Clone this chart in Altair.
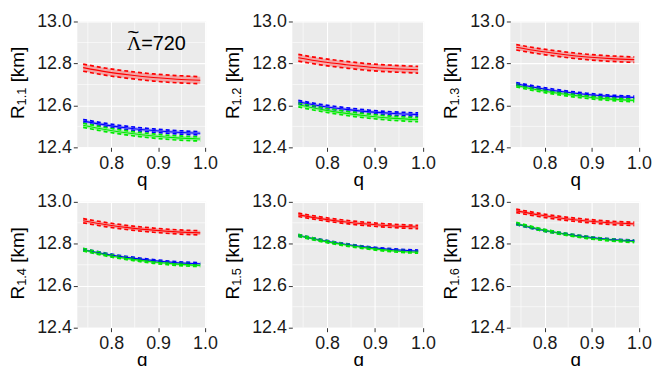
import altair as alt
import pandas as pd

# q grid
q_vals = [0.74, 0.79, 0.84, 0.89, 0.94, 0.99]
panel_subs = ["1.1", "1.2", "1.3", "1.4", "1.5", "1.6"]

# central curves per panel (red, blue, green)
red_mid = [
    [12.780, 12.760, 12.745, 12.733, 12.725, 12.720],
    [12.827, 12.808, 12.794, 12.782, 12.775, 12.770],
    [12.877, 12.858, 12.843, 12.831, 12.823, 12.818],
    [12.910, 12.891, 12.876, 12.865, 12.857, 12.852],
    [12.938, 12.919, 12.904, 12.893, 12.885, 12.880],
    [12.957, 12.937, 12.921, 12.909, 12.900, 12.895],
]
blue_mid = [
    [12.525, 12.506, 12.491, 12.480, 12.472, 12.467],
    [12.616, 12.596, 12.581, 12.569, 12.561, 12.556],
    [12.703, 12.682, 12.665, 12.652, 12.643, 12.638],
    [12.772, 12.750, 12.733, 12.720, 12.710, 12.705],
    [12.840, 12.816, 12.797, 12.782, 12.772, 12.766],
    [12.895, 12.868, 12.848, 12.832, 12.820, 12.814],
]
green_mid = [
    [12.505, 12.484, 12.467, 12.454, 12.445, 12.440],
    [12.603, 12.580, 12.562, 12.548, 12.538, 12.532],
    [12.695, 12.672, 12.654, 12.640, 12.630, 12.624],
    [12.772, 12.747, 12.728, 12.713, 12.703, 12.697],
    [12.840, 12.814, 12.794, 12.778, 12.766, 12.760],
    [12.897, 12.869, 12.847, 12.830, 12.818, 12.811],
]
# half widths of the uncertainty bands
red_err = [0.017, 0.016, 0.013, 0.010, 0.008, 0.008]
blue_err = [0.008, 0.008, 0.006, 0.005, 0.004, 0.004]
green_err = [0.010, 0.010, 0.007, 0.006, 0.005, 0.005]

series_names = ["red", "blue", "green"]
series_colors = ["#FF0000", "#0000FF", "#00EA00"]

x_ticks = [0.8, 0.9, 1.0]
y_ticks = [12.4, 12.6, 12.8, 13.0]
x_minor = [0.75, 0.85, 0.95]
y_minor = [12.5, 12.7, 12.9]

rows = []
for p in range(6):
    for s, mids, errs in (("red", red_mid, red_err), ("blue", blue_mid, blue_err), ("green", green_mid, green_err)):
        for q, m in zip(q_vals, mids[p]):
            rows.append(dict(panel=p, series=s, q=q, mid=m, lo=m - errs[p], hi=m + errs[p]))
df = pd.DataFrame(rows)

xs = alt.Scale(domain=[0.7275, 1.0025], nice=False, zero=False)
ys = alt.Scale(domain=[12.4, 13.0], nice=False, zero=False)
cs = alt.Scale(domain=series_names, range=series_colors)

FONT = "Liberation Sans"
TF = 19  # title font size
widths = [130, 133, 131]
H = 127


def txt(s, font=FONT, **kw):
    return alt.Chart(pd.DataFrame({"t": [s]})).mark_text(font=font, color="black", **kw)


def panel(p, w):
    d = df[df.panel == p]
    base = alt.Chart(d)
    xaxis = alt.Axis(values=x_ticks, format=".1f", title="q")
    yaxis = alt.Axis(values=y_ticks, format=".1f", title="")
    x = alt.X("q:Q", scale=xs, axis=xaxis)
    col = alt.Color("series:N", scale=cs, legend=None)
    vgrid = alt.Chart(pd.DataFrame({"v": x_minor})).mark_rule(color="white", strokeWidth=0.6).encode(
        x=alt.X("v:Q", scale=xs, axis=xaxis))
    hgrid = alt.Chart(pd.DataFrame({"v": y_minor})).mark_rule(color="white", strokeWidth=0.6).encode(
        y=alt.Y("v:Q", scale=ys, axis=yaxis))
    band = base.mark_area(opacity=0.3, interpolate="monotone").encode(
        x=x, y=alt.Y("lo:Q", scale=ys, axis=yaxis), y2="hi:Q", color=col)
    lo = base.mark_line(strokeDash=[4, 3], strokeWidth=1.7, interpolate="monotone").encode(
        x=x, y=alt.Y("lo:Q", scale=ys, axis=yaxis), color=col)
    hi = base.mark_line(strokeDash=[4, 3], strokeWidth=1.7, interpolate="monotone").encode(
        x=x, y=alt.Y("hi:Q", scale=ys, axis=yaxis), color=col)
    mid = base.mark_line(strokeWidth=1.1, interpolate="monotone").encode(
        x=x, y=alt.Y("mid:Q", scale=ys, axis=yaxis), color=col)
    # y title "R_{1.x} [km]" built from pieces (rotated)
    y0 = H / 2 + 35
    t_r = txt("R", angle=270, align="left", baseline="alphabetic", fontSize=TF).encode(
        x=alt.value(-54), y=alt.value(y0), text="t:N")
    t_sub = txt(panel_subs[p], angle=270, align="left", baseline="alphabetic", fontSize=13).encode(
        x=alt.value(-52), y=alt.value(y0 - 0.722 * TF), text="t:N")
    t_km = txt("[km]", angle=270, align="left", baseline="alphabetic", fontSize=TF).encode(
        x=alt.value(-54), y=alt.value(y0 - 0.722 * TF - 1.39 * 13 - 0.278 * TF), text="t:N")
    layers = [vgrid, hgrid, band, lo, hi, mid, t_r, t_sub, t_km]
    if p == 0:
        ax, ay = 0.864, 12.863
        lam = txt("Λ", font="Liberation Serif", fontSize=20, align="right", baseline="alphabetic").encode(
            x=alt.datum(ax), y=alt.datum(ay), text="t:N")
        rest = txt("=720", fontSize=20, align="left", baseline="alphabetic").encode(
            x=alt.datum(ax), y=alt.datum(ay), text="t:N")
        tilde = txt("~", fontSize=21, align="center", baseline="middle", dx=-8, dy=-17).encode(
            x=alt.datum(ax), y=alt.datum(ay), text="t:N")
        layers += [lam, rest, tilde]
    return alt.layer(*layers).properties(width=w, height=H)


row1 = alt.hconcat(*[panel(i, widths[i]) for i in range(3)], spacing=5)
row2 = alt.hconcat(*[panel(i + 3, widths[i]) for i in range(3)], spacing=5)
chart = alt.vconcat(row1, row2, spacing=4).properties(
    padding={"left": 8, "top": 11, "right": 5, "bottom": 0}
).configure_view(fill="#EBEBEB", stroke=None).configure_axis(
    labelFont=FONT, labelFontSize=18, labelColor="#1a1a1a",
    titleFont=FONT, titleFontSize=TF, titleFontWeight="normal", titleColor="black",
    tickColor="#333333", tickSize=4, domain=False, gridColor="white", gridWidth=1.1,
    labelPadding=2,
).configure_axisX(titlePadding=-2, labelPadding=3).configure_axisY(labelBaseline="middle")

chart.save("out.html", embed_options={"renderer": "svg", "actions": False})
